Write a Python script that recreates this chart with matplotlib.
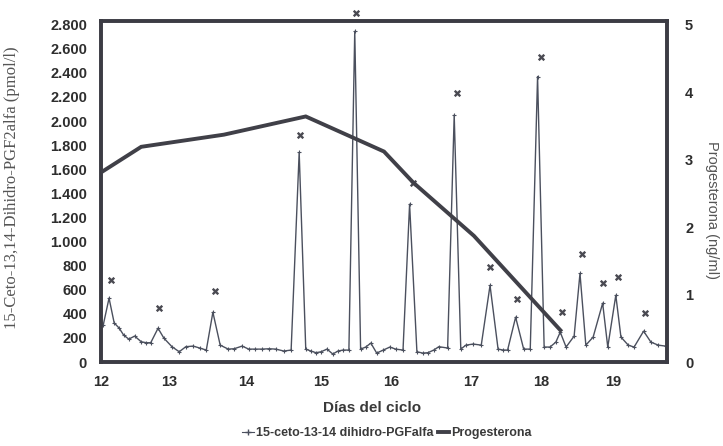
import matplotlib
matplotlib.use("Agg")
import matplotlib.pyplot as plt
from matplotlib.lines import Line2D

# --- data -------------------------------------------------------------
pgf_days = [12.03, 12.11, 12.18, 12.25, 12.31, 12.38, 12.46, 12.55, 12.62, 12.68,
            12.78, 12.86, 12.97, 13.07, 13.16, 13.26, 13.35, 13.44, 13.53, 13.63,
            13.74, 13.82, 13.93, 14.02, 14.11, 14.20, 14.30, 14.39, 14.50, 14.60,
            14.71, 14.80, 14.87, 14.94, 15.01, 15.09, 15.17, 15.24, 15.31, 15.39,
            15.47, 15.55, 15.62, 15.69, 15.77, 15.86, 15.95, 16.03, 16.13, 16.22,
            16.32, 16.40, 16.47, 16.55, 16.62, 16.74, 16.83, 16.92, 16.99, 17.09,
            17.20, 17.32, 17.43, 17.50, 17.56, 17.67, 17.78, 17.87, 17.97, 18.06,
            18.14, 18.22, 18.28, 18.36, 18.47, 18.55, 18.63, 18.73, 18.86, 18.93,
            19.04, 19.11, 19.21, 19.29, 19.42, 19.52, 19.62, 19.72]
pgf_values = [305, 530, 325, 280, 223, 190, 215, 168, 160, 160,
              280, 198, 127, 85, 127, 132, 116, 99, 413, 140,
              107, 110, 132, 107, 107, 107, 110, 107, 91, 99,
              1740, 107, 91, 77, 85, 107, 66, 91, 99, 99,
              2745, 107, 124, 157, 74, 99, 124, 107, 99, 1310,
              85, 74, 77, 99, 127, 116, 2050, 107, 140, 149,
              140, 636, 107, 99, 99, 372, 107, 107, 2370, 124,
              124, 165, 248, 124, 215, 735, 140, 207, 488, 124,
              554, 207, 140, 124, 256, 165, 140, 132]

peak_mark_days = [12.14, 12.79, 13.56, 14.72, 15.49, 16.27, 16.87, 17.32, 17.69,
                  18.02, 18.30, 18.58, 18.86, 19.07, 19.44]
peak_mark_values = [680, 446, 590, 1885, 2900, 1490, 2230, 785, 520,
                    2535, 413, 900, 653, 702, 405]

prog_days = [12.0, 12.55, 13.68, 14.80, 15.87, 16.27, 17.10, 18.30]
prog_values = [2.81, 3.19, 3.37, 3.64, 3.12, 2.66, 1.87, 0.45]

left_ticks = [0, 200, 400, 600, 800, 1000, 1200, 1400, 1600, 1800, 2000,
              2200, 2400, 2600, 2800]
left_tick_labels = ["0", "200", "400", "600", "800", "1.000", "1.200", "1.400",
                    "1.600", "1.800", "2.000", "2.200", "2.400", "2.600", "2.800"]
right_ticks = [0, 1, 2, 3, 4, 5]
day_tick_pos = [12.0, 12.93, 13.98, 15.01, 15.97, 17.06, 18.02, 19.0]
day_tick_labels = ["12", "13", "14", "15", "16", "17", "18", "19"]

# --- figure -----------------------------------------------------------
W, H = 723, 446
fig = plt.figure(figsize=(W / 100, H / 100), dpi=100)
fig.patch.set_facecolor("white")
ax = fig.add_axes([101 / W, 1 - 362 / H, 566 / W, (362 - 20.5) / H])
ax2 = ax.twinx()

sans = ["Liberation Sans", "DejaVu Sans"]
serif = ["Liberation Serif", "DejaVu Serif"]
dark = "#3c3c44"
txt = "#2e2e2e"

ax.plot(pgf_days, pgf_values, color="#4b505e", lw=1.0, marker="+", ms=3,
        mew=0.8, zorder=3)
ax.scatter(peak_mark_days, peak_mark_values, marker="x", s=16, linewidths=1.7,
           color="#4a4a52", clip_on=False, zorder=4)
ax2.plot(prog_days, prog_values, color="#404048", lw=2.8,
         solid_capstyle="butt", solid_joinstyle="miter", zorder=3)

ax.set_xlim(12.0, 19.74)
ax.set_ylim(0, 2835)
ax2.set_ylim(0, 5 * 2835 / 2800)

ax.set_yticks(left_ticks)
ax.set_yticklabels(left_tick_labels)
ax2.set_yticks(right_ticks)
ax.set_xticks(day_tick_pos)
ax.set_xticklabels(day_tick_labels)

for a in (ax, ax2):
    for s in a.spines.values():
        s.set_linewidth(2.6)
        s.set_color(dark)
ax.tick_params(axis="y", length=0, pad=10, labelsize=10.5, labelcolor=txt)
ax.tick_params(axis="x", length=0, pad=9, labelsize=10.5, labelcolor=txt)
ax2.tick_params(axis="y", length=0, pad=13, labelsize=10.5, labelcolor=txt)
for lab in ax.get_yticklabels() + ax.get_xticklabels() + ax2.get_yticklabels():
    lab.set_family(sans)
    lab.set_fontweight("bold")

fig.text(12 / W, 1 - 188 / H, "15-Ceto-13,14-Dihidro-PGF2alfa (pmol/l)",
         rotation=90, ha="center", va="center", family=serif, fontsize=12,
         color="#555555")
fig.text(712 / W, 1 - 210 / H, "Progesterona (ng/ml)", rotation=270,
         ha="center", va="center", family=sans, fontsize=10.5, color="#555555")
fig.text(372 / W, 1 - 408 / H, "Días del ciclo", ha="center", va="center",
         family=sans, fontsize=11, fontweight="bold", color="#3a3a3a")

handles = [Line2D([], [], color="#4b505e", lw=0.8, marker="+", ms=5, mew=1),
           Line2D([], [], color="#404048", lw=2.8)]
fig.legend(handles, ["15-ceto-13-14 dihidro-PGFalfa", "Progesterona"],
           loc="center", bbox_to_anchor=(387 / W, 1 - 433 / H), ncol=2,
           frameon=False, handlelength=0.9, handletextpad=0.15,
           columnspacing=0.4, prop={"family": sans, "size": 9, "weight": "bold"},
           labelcolor="#3a3a3a")

fig.savefig("out.png", dpi=100)
